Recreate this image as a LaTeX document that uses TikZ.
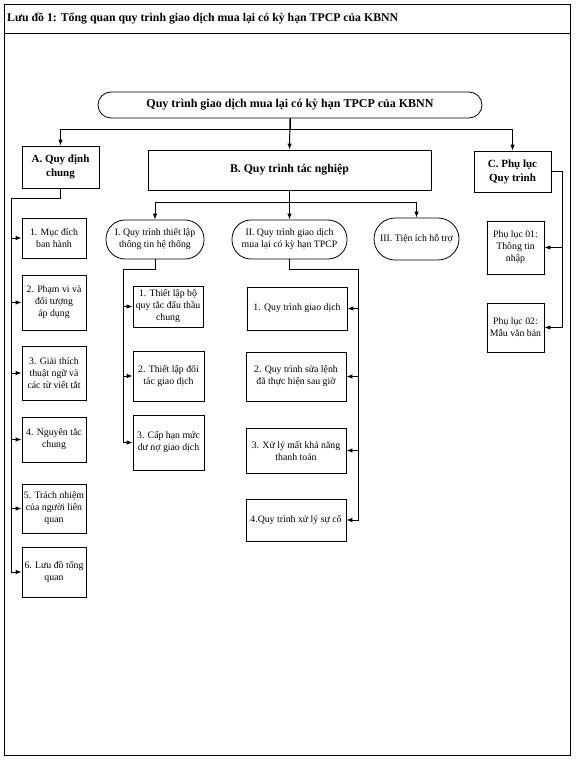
\documentclass[tikz,border=0pt]{standalone}
\usepackage{fontspec}
\setmainfont{Liberation Serif}
\usetikzlibrary{arrows.meta}
\begin{document}
\begin{tikzpicture}[x=1pt,y=-1pt,
  box/.style={draw, line width=0.8pt, inner sep=0pt, align=center, font=\fontsize{9.8}{12}\selectfont},
  bbox/.style={draw, line width=0.8pt, inner sep=0pt, align=center, font=\fontsize{11}{14}\selectfont\bfseries},
  pill/.style={draw, line width=0.8pt, inner sep=0pt, align=center, rounded corners=19pt, font=\fontsize{9.8}{12}\selectfont},
  conn/.style={line width=1pt},
  arr/.style={line width=1pt, -{Latex[length=6pt,width=4.5pt]}}]
\useasboundingbox (0,0) rectangle (575,762);
% frame
\draw[line width=0.9pt] (4.5,4) rectangle (570.5,755);
\draw[line width=0.9pt] (4.5,33) -- (570.5,33);
\node[anchor=west, inner sep=0pt, font=\fontsize{11.8}{13}\selectfont\bfseries] (title) at (7,18.5) {Lưu đồ 1: Tổng quan quy trình giao dịch mua lại có kỳ hạn TPCP của KBNN};
% top
\node[bbox, rounded corners=13pt, minimum width=384pt, minimum height=26pt, font=\fontsize{12}{14}\selectfont\bfseries] (main) at (290,105) {Quy trình giao dịch mua lại có kỳ hạn TPCP của KBNN};
\node[bbox, minimum width=77pt, minimum height=42pt] (A) at (60.5,167) {A. Quy định\\chung};
\node[bbox, minimum width=283pt, minimum height=40pt, font=\fontsize{11.8}{14}\selectfont\bfseries] (B) at (289.5,170) {B. Quy trình tác nghiệp};
\node[bbox, minimum width=77pt, minimum height=41pt] (C) at (512.5,171.5) {C. Phụ lục\\Quy trình};
% A children
\node[box, minimum width=64pt, minimum height=40pt] (A1) at (54,238) {1. Mục đích\\ban hành};
\node[box, minimum width=64pt, minimum height=55pt] (A2) at (54,302.5) {2. Phạm vi và\\đối tượng\\áp dụng};
\node[box, minimum width=64pt, minimum height=54pt] (A3) at (54,373) {3. Giải thích\\thuật ngữ và\\các từ viết tắt};
\node[box, minimum width=64pt, minimum height=45pt] (A4) at (54,439.5) {4. Nguyên tắc\\chung};
\node[box, minimum width=64pt, minimum height=49pt] (A5) at (54,508.5) {5. Trách nhiệm\\của người liên\\quan};
\node[box, minimum width=64pt, minimum height=50pt] (A6) at (54,572) {6. Lưu đồ tổng\\quan};
% B children
\node[pill, minimum width=98pt, minimum height=39pt] (I) at (155,239.5) {I. Quy trình thiết lập\\thông tin hệ thống};
\node[pill, minimum width=115pt, minimum height=39pt] (II) at (289.5,239.5) {II. Quy trình giao dịch\\mua lại có kỳ hạn TPCP};
\node[pill, rounded corners=21pt, minimum width=85pt, minimum height=42pt] (III) at (416.5,239) {III. Tiện ích hỗ trợ};
% I children
\node[box, minimum width=70pt, minimum height=41pt] (I1) at (168,306.5) {1. Thiết lập bộ\\quy tắc đấu thầu\\chung};
\node[box, minimum width=71pt, minimum height=50pt] (I2) at (168.5,376) {2. Thiết lập đối\\tác giao dịch};
\node[box, minimum width=71pt, minimum height=55pt] (I3) at (168.5,442.5) {3. Cấp hạn mức\\dư nợ giao dịch};
% II children
\node[box, minimum width=100pt, minimum height=43pt] (II1) at (297,308.5) {1. Quy trình giao dịch};
\node[box, minimum width=100pt, minimum height=49pt] (II2) at (296,376.5) {2. Quy trình sửa lệnh\\đã thực hiện sau giờ};
\node[box, minimum width=100pt, minimum height=45pt] (II3) at (296,450.5) {3. Xử lý mất khả năng\\thanh toán};
\node[box, minimum width=100pt, minimum height=42pt] (II4) at (296,520) {4.Quy trình xử lý sự cố};
% C children
\node[box, minimum width=57pt, minimum height=53pt] (P1) at (515.5,247.5) {Phụ lục 01:\\Thông tin\\nhập};
\node[box, minimum width=57pt, minimum height=49pt] (P2) at (515.5,327.5) {Phụ lục 02:\\Mẫu văn bản};
% connectors top
\draw[arr] (main.south) -- (B.north);
\draw[arr] (main.south) -- ++(0,11) -| (A.north);
\draw[arr] (main.south) -- ++(0,11) -| (C.north);
% B to I, II, III
\draw[arr] (B.south) -- (II.north);
\draw[arr] (B.south) -- ++(0,12) -| (I.north);
\draw[arr] (B.south) -- ++(0,12) -| (III.north);
% A to children
\coordinate (aa) at (11,198);
\draw[arr] (A.south) |- (aa) |- (A6.west);
\foreach \n in {A1,A2,A3,A4,A5} \draw[arr] (aa |- \n.west) -- (\n.west);
% I to children
\coordinate (ia) at (123,269);
\draw[arr] (I.south) |- (ia) |- (I3.west);
\foreach \n in {I1,I2} \draw[arr] (ia |- \n.west) -- (\n.west);
% II to children
\coordinate (iia) at (358,269);
\draw[arr] (II.south) |- (iia) |- (II4.east);
\foreach \n in {II1,II2,II3} \draw[arr] (iia |- \n.east) -- (\n.east);
% C to children
\coordinate (cc) at (562,171.5);
\draw[arr] (C.east) -- (cc) |- (P2.east);
\draw[arr] (cc |- P1.east) -- (P1.east);
\end{tikzpicture}
\end{document}
